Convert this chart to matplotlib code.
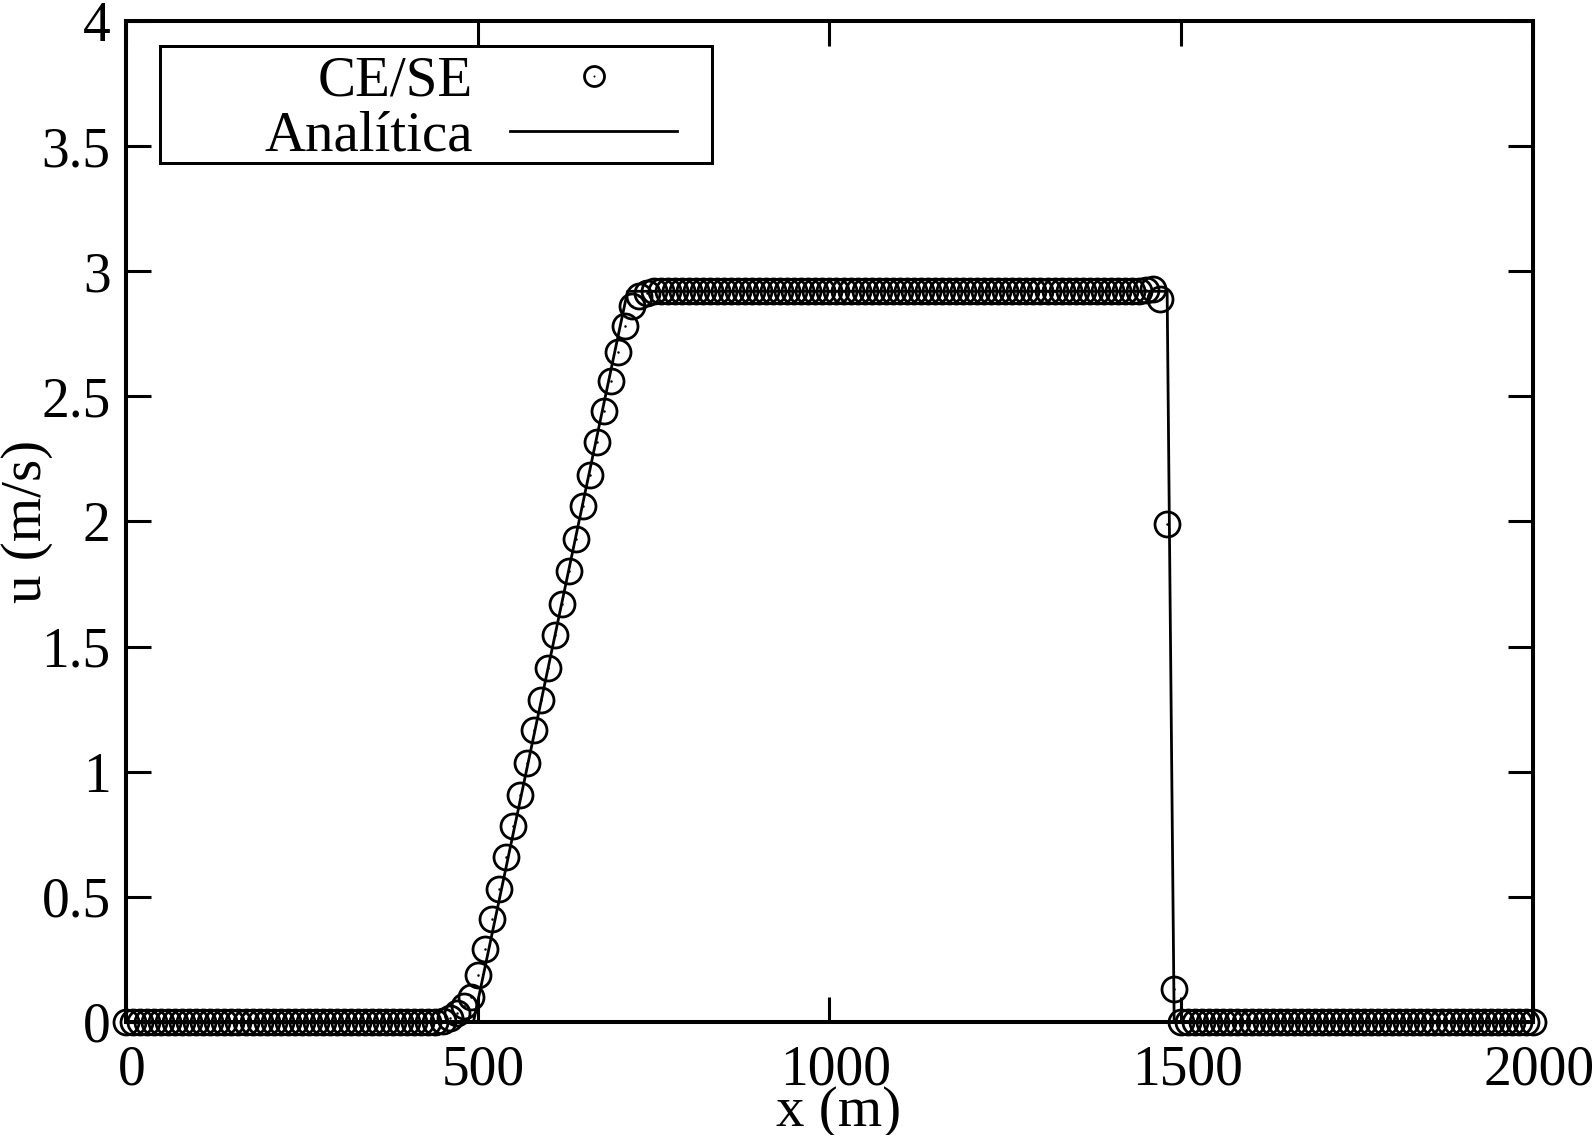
import matplotlib
matplotlib.use("Agg")
import matplotlib.pyplot as plt
import matplotlib.transforms as mtransforms
from matplotlib.patches import Rectangle
from matplotlib.legend_handler import HandlerTuple

# ---------------- data ----------------
x_cese = list(range(0, 2001, 10))  # grid positions, dx = 10 m
u_cese = [
    0.0, 0.0, 0.0, 0.0, 0.0, 0.0, 0.0, 0.0, 0.0, 0.0,            # 0-90
    0.0, 0.0, 0.0, 0.0, 0.0, 0.0, 0.0, 0.0, 0.0, 0.0,            # 100-190
    0.0, 0.0, 0.0, 0.0, 0.0, 0.0, 0.0, 0.0, 0.0, 0.0,            # 200-290
    0.0, 0.0, 0.0, 0.0, 0.0, 0.0, 0.0, 0.0, 0.0, 0.0,            # 300-390
    0.0, 0.0, 0.0, 0.0, 0.0, 0.005, 0.015, 0.035, 0.062, 0.10,   # 400-490
    0.186, 0.292, 0.412, 0.532, 0.658, 0.784, 0.907, 1.034, 1.165, 1.287,  # 500-590
    1.415, 1.546, 1.672, 1.802, 1.931, 2.062, 2.187, 2.316, 2.442, 2.563,  # 600-690
    2.677, 2.783, 2.862, 2.900, 2.915, 2.92, 2.92, 2.92, 2.92, 2.92,       # 700-790
    2.92, 2.92, 2.92, 2.92, 2.92, 2.92, 2.92, 2.92, 2.92, 2.92,  # 800-890
    2.92, 2.92, 2.92, 2.92, 2.92, 2.92, 2.92, 2.92, 2.92, 2.92,  # 900-990
    2.92, 2.92, 2.92, 2.92, 2.92, 2.92, 2.92, 2.92, 2.92, 2.92,  # 1000-1090
    2.92, 2.92, 2.92, 2.92, 2.92, 2.92, 2.92, 2.92, 2.92, 2.92,  # 1100-1190
    2.92, 2.92, 2.92, 2.92, 2.92, 2.92, 2.92, 2.92, 2.92, 2.92,  # 1200-1290
    2.92, 2.92, 2.92, 2.92, 2.92, 2.92, 2.92, 2.92, 2.92, 2.92,  # 1300-1390
    2.92, 2.92, 2.92, 2.92, 2.92, 2.925, 2.93, 2.89, 1.99, 0.13, # 1400-1490
    0.0, 0.0, 0.0, 0.0, 0.0, 0.0, 0.0, 0.0, 0.0, 0.0,            # 1500-1590
    0.0, 0.0, 0.0, 0.0, 0.0, 0.0, 0.0, 0.0, 0.0, 0.0,            # 1600-1690
    0.0, 0.0, 0.0, 0.0, 0.0, 0.0, 0.0, 0.0, 0.0, 0.0,            # 1700-1790
    0.0, 0.0, 0.0, 0.0, 0.0, 0.0, 0.0, 0.0, 0.0, 0.0,            # 1800-1890
    0.0, 0.0, 0.0, 0.0, 0.0, 0.0, 0.0, 0.0, 0.0, 0.0,            # 1900-1990
    0.0,                                                         # 2000
]

x_ana = [0, 494, 713, 1480, 1490, 2000]
u_ana = [0.0, 0.0, 2.92, 2.92, 0.0, 0.0]

xticks = [0, 500, 1000, 1500, 2000]
xticklabels = ["0", "500", "1000", "1500", "2000"]
yticks = [0, 0.5, 1, 1.5, 2, 2.5, 3, 3.5, 4]
yticklabels = ["0", "0.5", "1", "1.5", "2", "2.5", "3", "3.5", "4"]

series_labels = ["CE/SE", "Analítica"]

# ---------------- figure ----------------
plt.rcParams['font.family'] = ['Liberation Serif', 'DejaVu Serif']
FS_TICK = 40
FS = 41

fig = plt.figure(figsize=(15.96, 11.35), dpi=100)
ax = fig.add_axes([0.0789, 0.09956, 0.8816, 0.88194])

line_ana, = ax.plot(x_ana, u_ana, color='black', lw=2.0, zorder=2)
circ, = ax.plot(x_cese, u_cese, ls='none', marker='o', ms=18, mfc='none',
                mec='black', mew=2.0, clip_on=False, zorder=3)
dots, = ax.plot(x_cese, u_cese, ls='none', marker='o', ms=1.8, mfc='black',
                mec='black', mew=0, clip_on=False, zorder=3)

ax.set_xlim(0, 2000)
ax.set_ylim(0, 4)
ax.set_xticks(xticks)
ax.set_xticklabels(xticklabels)
ax.set_yticks(yticks)
ax.set_yticklabels(yticklabels)
ax.minorticks_off()
ax.tick_params(which='major', direction='in', length=18, width=2.2,
               top=True, right=True, labelsize=FS_TICK, color='black')
ax.tick_params(axis='x', pad=16)
ax.tick_params(axis='y', pad=11)
for s in ax.spines.values():
    s.set_linewidth(2.9)
    s.set_color('black')

# xmgrace places x tick labels a few pixels right of the tick
shift = mtransforms.ScaledTranslation(6 / 100, 0, fig.dpi_scale_trans)
for lab in ax.get_xticklabels():
    lab.set_transform(lab.get_transform() + shift)

ax.set_xlabel('x (m)', fontsize=FS)
ax.xaxis.set_label_coords(0.5068, -0.064)
ax.set_ylabel('u (m/s)', fontsize=FS)
ax.yaxis.set_label_coords(-0.052, 0.5)

# legend (xmgrace style: label first, symbol after, square box)
leg = fig.legend([(circ, dots), line_ana], series_labels,
                 handler_map={tuple: HandlerTuple(ndivide=1)},
                 loc='upper right', bbox_to_anchor=(677 / 1596, (1135 - 56) / 1135),
                 frameon=False, markerfirst=False, fontsize=FS,
                 handlelength=2.93, handletextpad=0.65, labelspacing=0.05,
                 borderpad=0, borderaxespad=0, markerscale=0.8)

frame = Rectangle((160 / 1596, (1135 - 163) / 1135), 552 / 1596, 117 / 1135,
                  transform=fig.transFigure, fill=False, lw=2.16,
                  edgecolor='black', zorder=5)
fig.add_artist(frame)

fig.savefig('out.png', dpi=100)
